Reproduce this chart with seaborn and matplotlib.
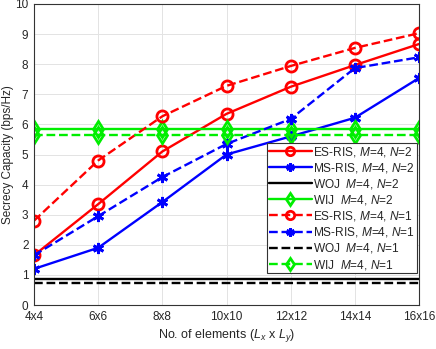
import numpy as np
import pandas as pd
import matplotlib
matplotlib.use('Agg')
import matplotlib.pyplot as plt
import seaborn as sns

# x categories
elements = ['4x4', '6x6', '8x8', '10x10', '12x12', '14x14', '16x16']

# secrecy capacity (bps/Hz)
es_ris_n2 = [1.65, 3.35, 5.10, 6.35, 7.25, 7.97, 8.67]
ms_ris_n2 = [1.20, 1.90, 3.42, 5.00, 5.60, 6.22, 7.54]
woj_n2 = [0.87] * 7
wij_n2 = [5.85] * 7
es_ris_n1 = [2.80, 4.80, 6.27, 7.28, 7.94, 8.54, 9.03]
ms_ris_n1 = [1.65, 2.95, 4.25, 5.35, 6.18, 7.87, 8.23]
woj_n1 = [0.73] * 7
wij_n1 = [5.65] * 7

sns.set_style('whitegrid')
plt.rcParams['font.family'] = ['Liberation Sans', 'DejaVu Sans']
plt.rcParams['mathtext.fontset'] = 'custom'
plt.rcParams['mathtext.it'] = 'Liberation Sans:italic'
plt.rcParams['mathtext.rm'] = 'Liberation Sans'

fig = plt.figure(figsize=(4.36, 3.49), dpi=100)
ax = fig.add_axes([34 / 436, 1 - 305 / 349, 385 / 436, 301 / 349])

x = np.arange(len(elements))
ast = (6, 2, 0)
series = [
    (es_ris_n2, 'ES-RIS, $M$=4, $N$=2', 'red', '-', 'o'),
    (ms_ris_n2, 'MS-RIS, $M$=4, $N$=2', 'blue', '-', ast),
    (woj_n2, 'WOJ  $M$=4, $N$=2', 'black', '-', None),
    (wij_n2, 'WIJ  $M$=4, $N$=2', '#00ee00', '-', 'd'),
    (es_ris_n1, 'ES-RIS, $M$=4, $N$=1', 'red', '--', 'o'),
    (ms_ris_n1, 'MS-RIS, $M$=4, $N$=1', 'blue', '--', ast),
    (woj_n1, 'WOJ  $M$=4, $N$=1', 'black', '--', None),
    (wij_n1, 'WIJ  $M$=4, $N$=1', '#00ee00', '--', 'd'),
]

for vals, label, color, ls, mk in series:
    kw = {}
    if mk is not None:
        kw = dict(marker=mk, markersize=8,
                  markerfacecolor='none', markeredgecolor=color, markeredgewidth=2.0)
    sns.lineplot(x=x, y=vals, ax=ax, color=color, linestyle=ls, linewidth=1.7,
                 label=label, **kw)

ax.set_xlim(0, len(elements) - 1)
ax.set_ylim(0, 10)
ax.set_xticks(x)
ax.set_xticklabels(elements)
ax.set_yticks(range(0, 11))
ax.grid(True, color='#e3e3e3', linewidth=0.7)
for s in ax.spines.values():
    s.set_color('#333333')
    s.set_linewidth(0.8)
ax.tick_params(direction='in', length=3, labelsize=8.5, colors='#262626', pad=4)
ax.set_xlabel('No. of elements ($L_x$ x $L_y$)', fontsize=9, labelpad=3)
ax.set_ylabel('Secrecy Capacity (bps/Hz)', fontsize=8.5, va='center')
ax.yaxis.set_label_coords(-0.068, 0.5)

leg = ax.legend(loc='lower right', bbox_to_anchor=(0.995, 0.105), fontsize=8.6,
                frameon=True, fancybox=False, edgecolor='#333333', framealpha=1,
                borderpad=0.15, labelspacing=0.18, handlelength=3.6,
                handletextpad=0.15, borderaxespad=0.0, markerscale=0.75)
leg.get_frame().set_linewidth(0.8)

fig.savefig('out.png', dpi=100)
